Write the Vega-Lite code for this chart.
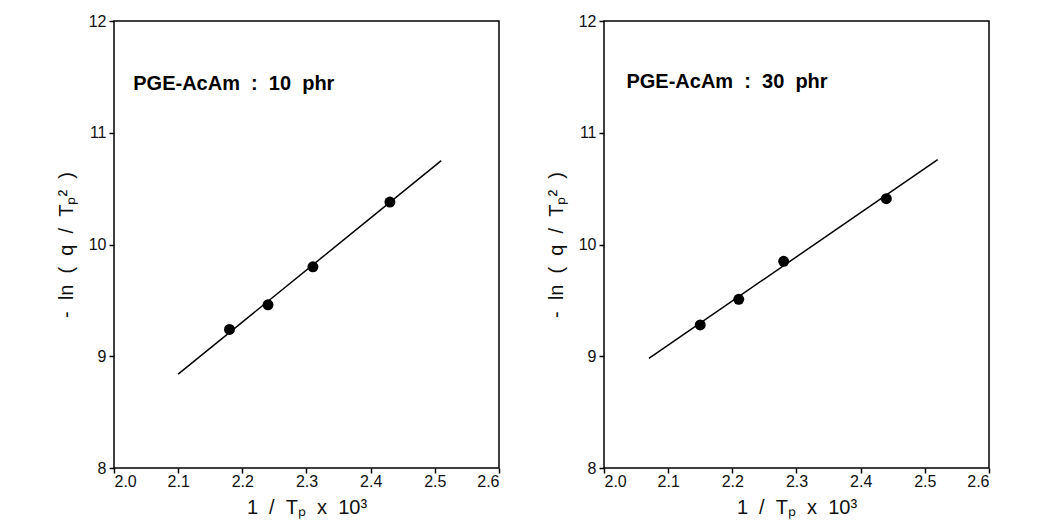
{
  "$schema": "https://vega.github.io/schema/vega-lite/v6.json",
  "background": "white",
  "padding": {"left": 55, "top": 12, "right": 5, "bottom": 5},
  "spacing": 105,
  "bounds": "flush",
  "config": {
    "font": "Liberation Sans",
    "view": {"stroke": "black", "strokeWidth": 1.5},
    "axis": {
      "grid": false,
      "domain": false,
      "ticks": true,
      "tickColor": "black",
      "tickWidth": 1.5,
      "tickSize": 5,
      "labelColor": "#111",
      "labelFontSize": 16,
      "titleColor": "#111",
      "titleFontSize": 20,
      "titleFontWeight": "normal"
    },
    "axisX": {"labelPadding": 0, "titlePadding": 8},
    "axisY": {"labelPadding": 3, "titlePadding": 12}
  },
  "datasets": {
    "pts10": [
      {"x": 2.18, "y": 9.24},
      {"x": 2.24, "y": 9.46},
      {"x": 2.31, "y": 9.80},
      {"x": 2.43, "y": 10.38}
    ],
    "fit10": [
      {"x": 2.10, "y": 8.84},
      {"x": 2.51, "y": 10.75}
    ],
    "pts30": [
      {"x": 2.15, "y": 9.28},
      {"x": 2.21, "y": 9.51},
      {"x": 2.28, "y": 9.85},
      {"x": 2.44, "y": 10.41}
    ],
    "fit30": [
      {"x": 2.07, "y": 8.98},
      {"x": 2.52, "y": 10.76}
    ],
    "lab10": [{"x": 2.03, "y": 11.44, "t": "PGE-AcAm\u00a0\u00a0:\u00a0\u00a010\u00a0\u00a0phr"}],
    "lab30": [{"x": 2.035, "y": 11.45, "t": "PGE-AcAm\u00a0\u00a0:\u00a0\u00a030\u00a0\u00a0phr"}]
  },
  "hconcat": [
    {
      "width": 385,
      "height": 447,
      "layer": [
        {
          "data": {"name": "fit10"},
          "mark": {"type": "line", "color": "black", "strokeWidth": 1.5},
          "encoding": {
            "x": {"field": "x", "type": "quantitative", "scale": {"domain": [2.0, 2.6], "nice": false, "zero": false},
              "axis": {"values": [2.0, 2.1, 2.2, 2.3, 2.4, 2.5, 2.6], "format": ".1f", "title": "1\u00a0\u00a0/\u00a0\u00a0Tₚ\u00a0\u00a0x\u00a0\u00a010³"}},
            "y": {"field": "y", "type": "quantitative", "scale": {"domain": [8, 12], "nice": false, "zero": false},
              "axis": {"values": [8, 9, 10, 11, 12], "format": "d", "title": "-\u00a0\u00a0ln\u00a0\u00a0(\u00a0\u00a0q\u00a0\u00a0/\u00a0\u00a0Tₚ²\u00a0\u00a0)"}}
          }
        },
        {
          "data": {"name": "pts10"},
          "mark": {"type": "circle", "color": "black", "opacity": 1, "size": 120},
          "encoding": {
            "x": {"field": "x", "type": "quantitative"},
            "y": {"field": "y", "type": "quantitative"}
          }
        },
        {
          "data": {"name": "lab10"},
          "mark": {"type": "text", "align": "left", "baseline": "middle", "fontSize": 20, "fontWeight": "bold", "color": "black"},
          "encoding": {
            "x": {"field": "x", "type": "quantitative"},
            "y": {"field": "y", "type": "quantitative"},
            "text": {"field": "t"}
          }
        }
      ]
    },
    {
      "width": 385,
      "height": 447,
      "layer": [
        {
          "data": {"name": "fit30"},
          "mark": {"type": "line", "color": "black", "strokeWidth": 1.5},
          "encoding": {
            "x": {"field": "x", "type": "quantitative", "scale": {"domain": [2.0, 2.6], "nice": false, "zero": false},
              "axis": {"values": [2.0, 2.1, 2.2, 2.3, 2.4, 2.5, 2.6], "format": ".1f", "title": "1\u00a0\u00a0/\u00a0\u00a0Tₚ\u00a0\u00a0x\u00a0\u00a010³"}},
            "y": {"field": "y", "type": "quantitative", "scale": {"domain": [8, 12], "nice": false, "zero": false},
              "axis": {"values": [8, 9, 10, 11, 12], "format": "d", "title": "-\u00a0\u00a0ln\u00a0\u00a0(\u00a0\u00a0q\u00a0\u00a0/\u00a0\u00a0Tₚ²\u00a0\u00a0)"}}
          }
        },
        {
          "data": {"name": "pts30"},
          "mark": {"type": "circle", "color": "black", "opacity": 1, "size": 120},
          "encoding": {
            "x": {"field": "x", "type": "quantitative"},
            "y": {"field": "y", "type": "quantitative"}
          }
        },
        {
          "data": {"name": "lab30"},
          "mark": {"type": "text", "align": "left", "baseline": "middle", "fontSize": 20, "fontWeight": "bold", "color": "black"},
          "encoding": {
            "x": {"field": "x", "type": "quantitative"},
            "y": {"field": "y", "type": "quantitative"},
            "text": {"field": "t"}
          }
        }
      ]
    }
  ]
}
